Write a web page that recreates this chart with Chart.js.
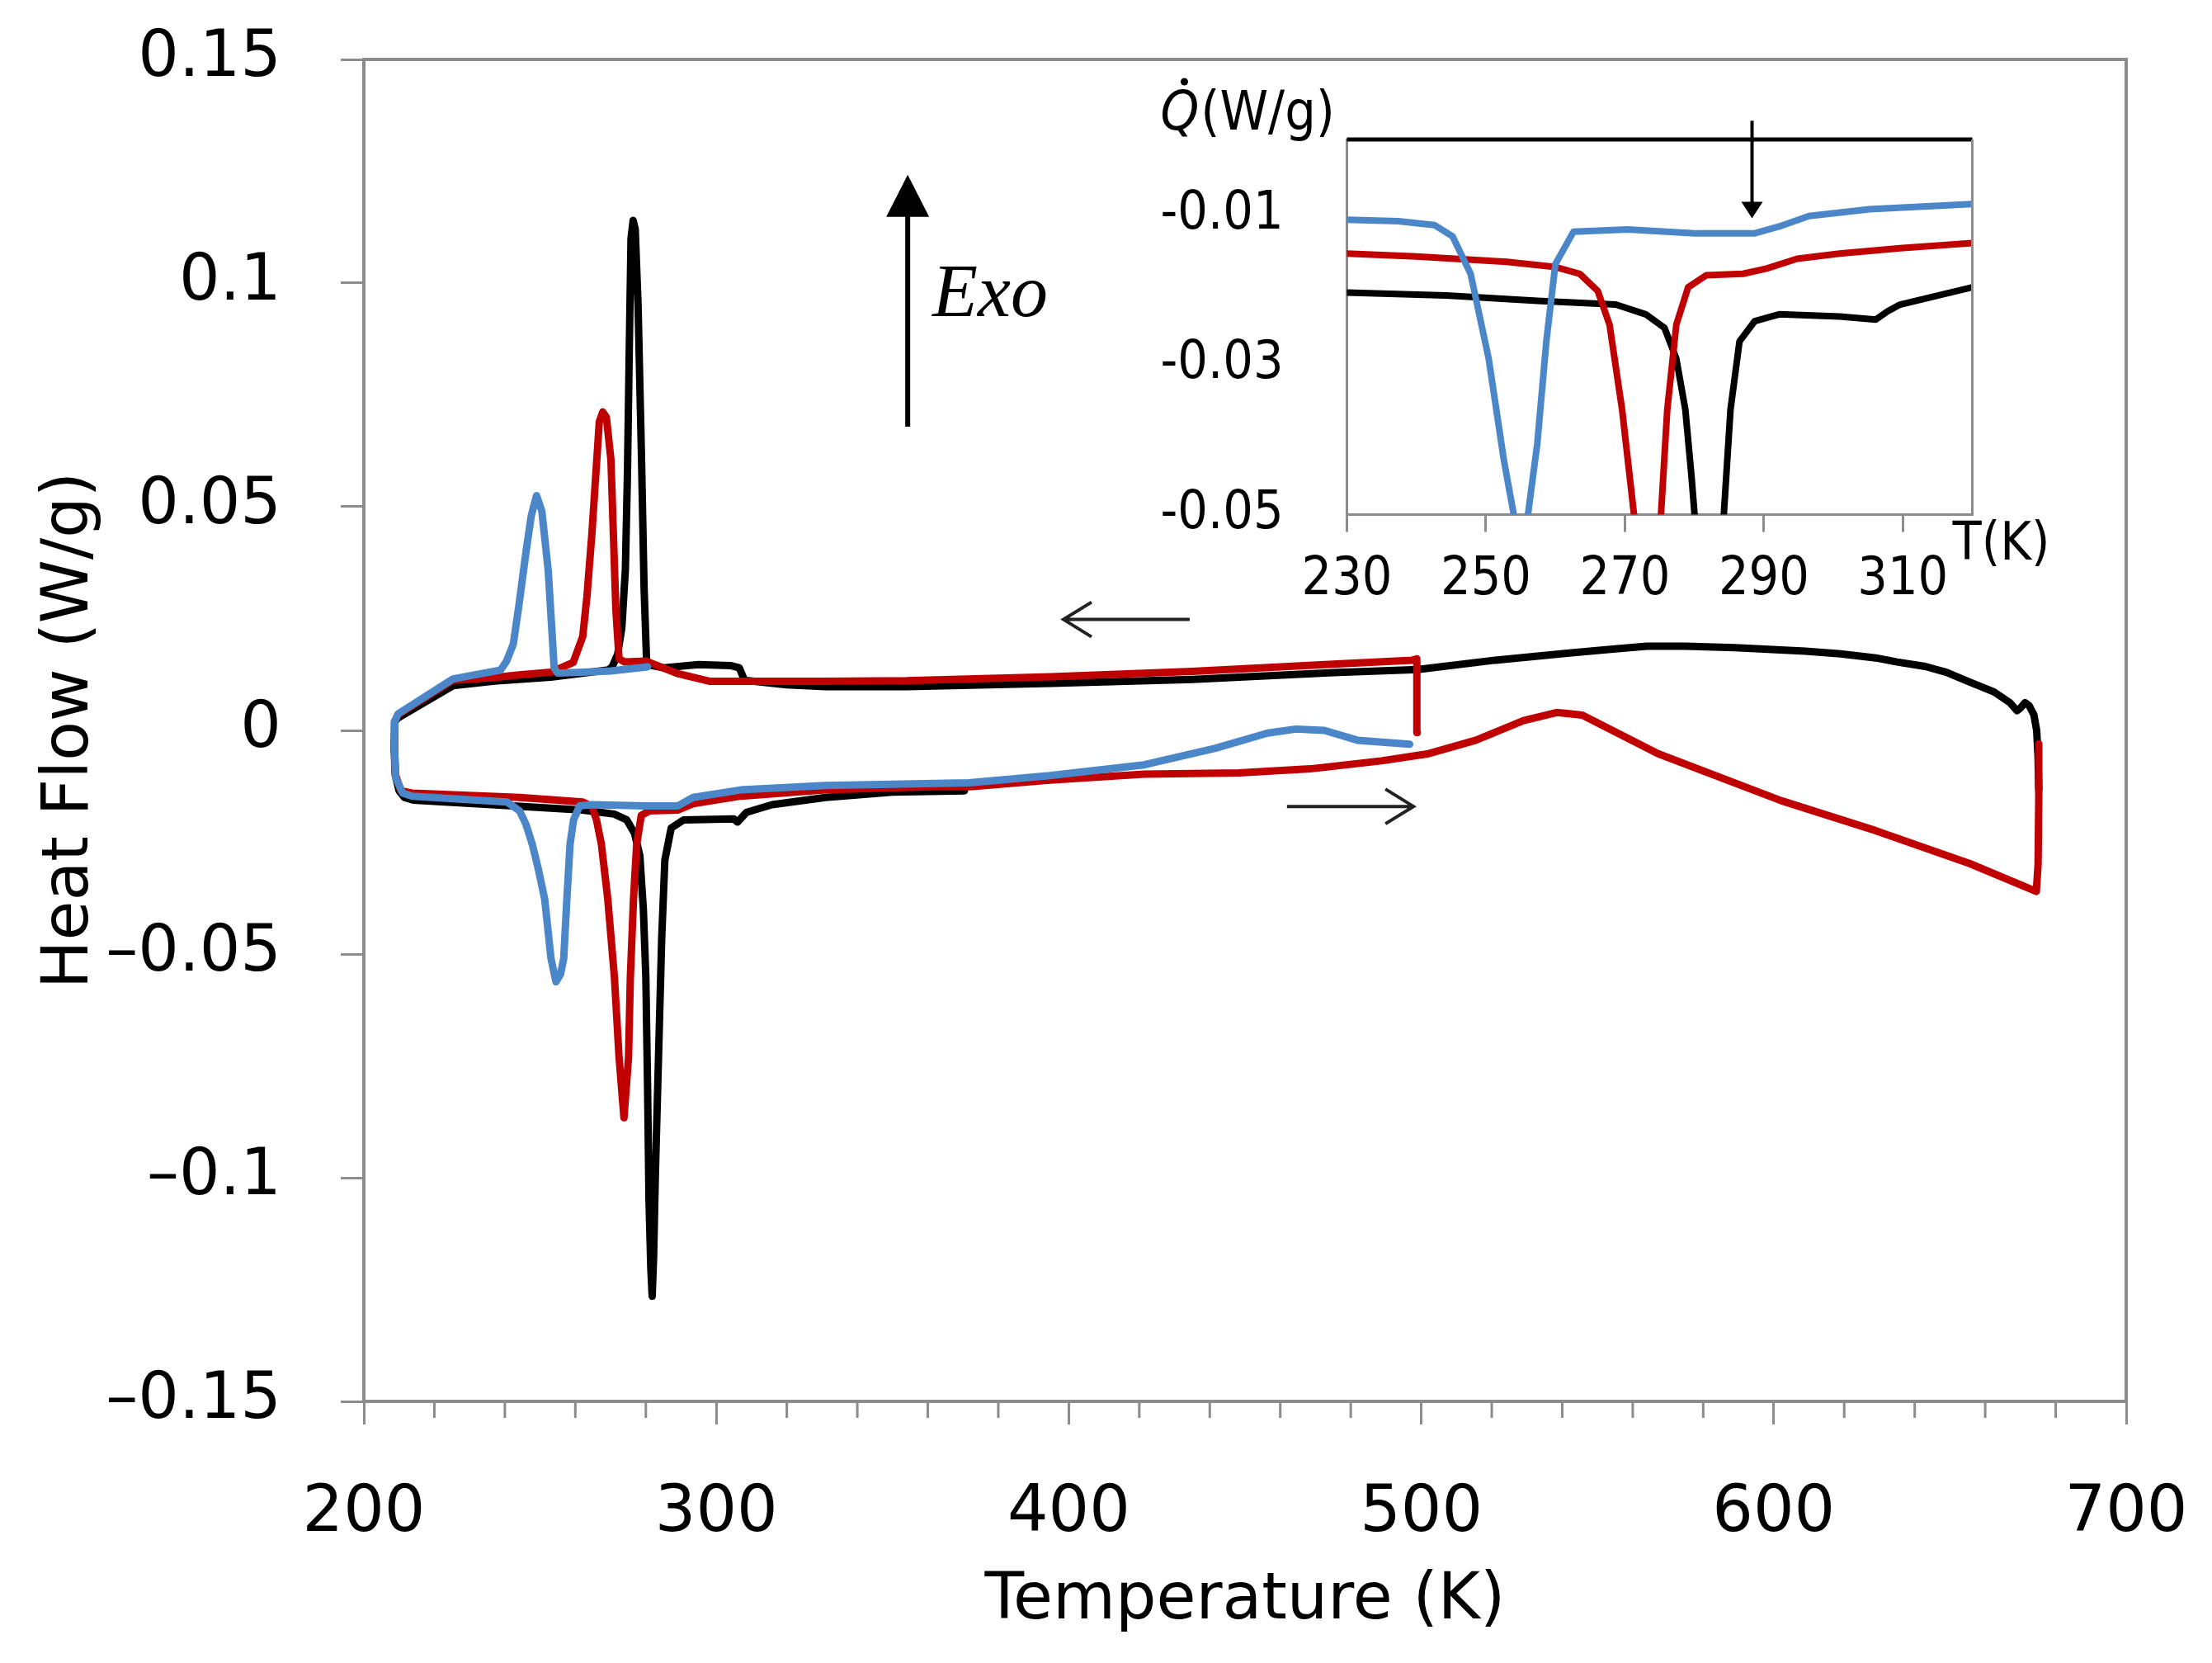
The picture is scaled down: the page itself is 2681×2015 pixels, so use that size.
<!DOCTYPE html>
<html>
<head>
<meta charset="utf-8">
<title>Heat flow vs temperature</title>
<script src="https://cdn.jsdelivr.net/npm/chart.js@4.4.0/dist/chart.umd.min.js"></script>
<style>
  html, body { margin: 0; padding: 0; background: #fff; }
  #wrap { position: relative; width: 2681px; height: 2015px; }
  #main { position: absolute; left: 0; top: 0; }
  #inset { position: absolute; left: 1380px; top: 90px; }
</style>
</head>
<body>
<div id="wrap">
  <canvas id="main" width="2681" height="2015"></canvas>
  <canvas id="inset" width="1120" height="650"></canvas>
</div>
<script>
// ---- main plot data: [T (K), heat flow (W/g)] along each loop ----
const blackLoop = [
  [675.2, -0.0132], [675.0, -0.006], [674.6, 0.0], [673.8, 0.0035], [672.5, 0.0055], [671.3, 0.0062],
  [670.0, 0.005], [669.0, 0.0044], [667.0, 0.0062], [662.5, 0.0086], [655, 0.0110], [649, 0.0130],
  [643, 0.0143], [635, 0.0153], [629, 0.0162], [619, 0.0171], [609, 0.0177], [589, 0.0185],
  [575, 0.0188], [564, 0.0188], [555, 0.0182], [542, 0.0173], [521, 0.0157], [499, 0.0136],
  [475, 0.0129], [435, 0.0114], [395, 0.0105], [354, 0.0098], [331, 0.0098], [320, 0.0102],
  [308, 0.0112], [306.5, 0.0140], [304, 0.0145], [295, 0.0147], [285, 0.0140], [281, 0.0146],
  [280.2, 0.0158], [279.5, 0.032], [278.8, 0.060], [277.8, 0.095], [277.0, 0.112], [276.4, 0.114],
  [275.8, 0.110], [275.3, 0.085], [274.8, 0.058], [274.2, 0.036], [273.2, 0.023], [272.0, 0.017],
  [270.5, 0.0143], [269.4, 0.0135], [253, 0.0119], [237, 0.0110], [225.3, 0.0100], [209.7, 0.0028],
  [208.8, 0.002], [208.6, -0.004], [208.9, -0.010], [210.0, -0.0135], [211.5, -0.0150], [214, -0.0156],
  [242.3, -0.0169], [262, -0.0178], [271, -0.0187], [274.6, -0.0200], [276.8, -0.0230], [278.3, -0.028],
  [279.3, -0.040], [280.0, -0.055], [280.5, -0.080], [280.9, -0.105], [281.4, -0.120], [281.8, -0.1265],
  [282.2, -0.118], [282.7, -0.0995], [283.6, -0.073], [284.5, -0.0465], [285.4, -0.029], [287.2, -0.0218],
  [290.7, -0.0200], [305, -0.0198], [306, -0.0205], [308.6, -0.0183], [315.8, -0.0166], [331, -0.0150],
  [350, -0.0138], [370.4, -0.0135]
];

const redLoop = [
  [498.9, -0.0005], [498.8, 0.0100], [498.7, 0.0160], [497.5, 0.0157], [475, 0.0148], [435, 0.0132],
  [395, 0.0120], [354, 0.0111], [331, 0.0110], [298, 0.0110], [289, 0.0127], [280, 0.0155],
  [274, 0.0153], [272.4, 0.0160], [271.5, 0.027], [270.1, 0.0605], [268.8, 0.0700], [267.8, 0.0712],
  [266.8, 0.0690], [264.7, 0.044], [263.3, 0.030], [262.1, 0.021], [259.4, 0.0152], [253, 0.0130],
  [244, 0.0124], [237, 0.0118], [225.3, 0.0112], [209.7, 0.0035], [208.8, 0.002], [208.7, -0.004],
  [209.0, -0.010], [210.5, -0.0135], [213.7, -0.0140], [244.2, -0.0150], [262.1, -0.0160], [264.7, -0.0170],
  [266.0, -0.0200], [267.4, -0.0255], [269.2, -0.0377], [271.1, -0.0553], [272.4, -0.0730], [273.8, -0.0866],
  [275.1, -0.0730], [275.6, -0.0553], [276.5, -0.0377], [277.4, -0.0255], [278.7, -0.0190], [281, -0.0180],
  [289, -0.0178], [293.4, -0.0164], [306.9, -0.0147], [331, -0.0133], [361, -0.0126], [372, -0.0126],
  [394.6, -0.0111], [421.4, -0.0098], [448.3, -0.0095], [468.5, -0.0086], [488.7, -0.0068], [502.1, -0.0052],
  [515.5, -0.0022], [529, 0.0022], [538.4, 0.0040], [542.4, 0.0037], [545.7, 0.0034], [567.2, -0.0052],
  [602.1, -0.0157], [628.9, -0.0224], [655.7, -0.0298], [674.5, -0.0360], [675.0, -0.030], [675.2, -0.015],
  [675.2, -0.003]
];

const blueLoop = [
  [280.5, 0.0142], [270, 0.0133], [262, 0.0130], [255, 0.0128], [254, 0.0140], [252.3, 0.0358],
  [250.5, 0.049], [249.0, 0.0525], [247.5, 0.048], [246.0, 0.0399], [244.0, 0.028], [242.4, 0.0193],
  [240.5, 0.0155], [238.8, 0.0135], [225.3, 0.0115], [209.7, 0.0037], [208.8, 0.002], [208.7, -0.004],
  [209.0, -0.0105], [211.0, -0.0140], [213.7, -0.0147], [240.6, -0.0160], [244.2, -0.0180], [246.0, -0.021],
  [247.8, -0.0255], [249.5, -0.031], [251.3, -0.0377], [253.1, -0.0510], [254.5, -0.0562], [255.8, -0.0545],
  [256.7, -0.0510], [257.6, -0.0377], [258.5, -0.0255], [259.5, -0.020], [261.2, -0.0169], [264.7, -0.0166],
  [280, -0.0169], [289, -0.0169], [293.4, -0.0150], [306.9, -0.0133], [331, -0.0123], [371.7, -0.0117],
  [394.6, -0.0101], [421.4, -0.0077], [441.6, -0.0040], [456.4, -0.0006], [464.4, 0.0003], [472.5, 0.0],
  [481.9, -0.0022], [496.7, -0.0031]
];

// ---- inset data (heating branch, 230-320 K) ----
const insetBlack = [
  [230, -0.0204], [244.3, -0.0208], [257.4, -0.0215], [268.7, -0.0220], [273, -0.0233], [275.7, -0.0251],
  [277.4, -0.0292], [278.7, -0.036], [279.6, -0.045], [280.2, -0.052], [282, -0.09], [284.1, -0.052],
  [285.2, -0.036], [286.5, -0.0269], [288.7, -0.0242], [292.2, -0.0233], [300.9, -0.0236], [306.1, -0.0240],
  [307.8, -0.0229], [309.6, -0.0220], [320, -0.0197]
];
const insetRed = [
  [230, -0.0152], [240, -0.0156], [253, -0.0163], [260, -0.0170], [263.5, -0.0179], [266.1, -0.0202],
  [267.8, -0.0247], [269.6, -0.036], [271.5, -0.0515], [273.3, -0.07], [275.1, -0.0515], [276.1, -0.036],
  [277.4, -0.0247], [279.1, -0.0197], [281.7, -0.0181], [287, -0.0179], [290.4, -0.0172], [294.8, -0.0159],
  [300.9, -0.0152], [309.6, -0.0145], [320, -0.0138]
];
const insetBlue = [
  [230, -0.0107], [237.4, -0.0109], [242.6, -0.0114], [245.2, -0.0129], [247.8, -0.0179], [250.4, -0.0292],
  [252.6, -0.0428], [255.2, -0.056], [257.4, -0.0405], [258.7, -0.0269], [260, -0.0166], [262.6, -0.0123],
  [270.4, -0.0120], [280, -0.0125], [288.7, -0.0125], [292.2, -0.0116], [296.5, -0.0102], [305.2, -0.0093],
  [320, -0.0086]
];

// ---- ticks ----
const xTickValues = [200, 300, 400, 500, 600, 700];
const xTickLabels = ['200', '300', '400', '500', '600', '700'];
const xMinorTicks = [220, 240, 260, 280, 320, 340, 360, 380, 420, 440, 460, 480,
  520, 540, 560, 580, 620, 640, 660, 680];
const yTickValues = [-0.15, -0.1, -0.05, 0, 0.05, 0.1, 0.15];
const yTickLabels = ['\u20130.15', '\u20130.1', '\u20130.05', '0', '0.05', '0.1', '0.15'];

const insetXTicks = [230, 250, 270, 290, 310];
const insetXLabels = ['230', '250', '270', '290', '310'];
const insetYTicks = [-0.05, -0.03, -0.01];
const insetYLabels = ['-0.05', '-0.03', '-0.01'];

const BLACK = '#000000';
const RED = '#C00000';
const BLUE = '#4A86C8';
const AXIS = '#8c8c8c';
const FONT = "'DejaVu Sans', 'Noto Sans', sans-serif";
const NARROW = "'DejaVu Sans Condensed', 'Liberation Sans Narrow', 'DejaVu Sans', sans-serif";

Chart.defaults.font.family = FONT;
Chart.defaults.color = '#000';

const toPoints = arr => arr.map(p => ({ x: p[0], y: p[1] }));

function lineSet(data, color, width, order) {
  return {
    data: toPoints(data),
    showLine: true,
    borderColor: color,
    backgroundColor: color,
    borderWidth: width,
    pointRadius: 0,
    tension: 0,
    borderJoinStyle: 'round',
    borderCapStyle: 'round',
    order: order
  };
}

// keep the plot box where it is, whatever room the tick labels ask for
function noLabelMargins(s) {
  s.paddingTop = 0;
  s.paddingBottom = 0;
  s.paddingLeft = 0;
  s.paddingRight = 0;
}

function arrowHead(ctx, x, y, dir, len, half) {
  // filled triangle, tip at (x, y); dir = -1 points up, 1 points down
  ctx.beginPath();
  ctx.moveTo(x, y);
  ctx.lineTo(x - half, y - dir * len);
  ctx.lineTo(x + half, y - dir * len);
  ctx.closePath();
  ctx.fill();
}

// annotations of the main plot: frame, minor ticks, Exo arrow and direction arrows
const mainDecor = {
  id: 'mainDecor',
  afterDatasetsDraw(chart) {
    const { ctx, chartArea: a, scales: { x, y } } = chart;
    ctx.save();
    ctx.strokeStyle = AXIS;
    ctx.lineWidth = 4;
    ctx.beginPath();
    ctx.moveTo(a.left, a.top);
    ctx.lineTo(a.right, a.top);
    ctx.lineTo(a.right, a.bottom);
    ctx.stroke();

    ctx.lineWidth = 3;
    ctx.beginPath();
    xMinorTicks.forEach(v => {
      const px = x.getPixelForValue(v);
      ctx.moveTo(px, a.bottom);
      ctx.lineTo(px, a.bottom + 20);
    });
    ctx.stroke();

    // Exo arrow
    const ex = x.getPixelForValue(354.3);
    const tip = y.getPixelForValue(0.1242);
    ctx.strokeStyle = BLACK;
    ctx.fillStyle = BLACK;
    ctx.lineWidth = 6;
    ctx.beginPath();
    ctx.moveTo(ex, y.getPixelForValue(0.0679));
    ctx.lineTo(ex, tip + 40);
    ctx.stroke();
    arrowHead(ctx, ex, tip, -1, 51, 26);

    ctx.font = "italic 90px 'Liberation Serif', 'DejaVu Serif', serif";
    ctx.textBaseline = 'alphabetic';
    ctx.textAlign = 'left';
    ctx.fillText('Exo', x.getPixelForValue(361.3), y.getPixelForValue(0.0926));

    // cooling / heating direction arrows
    ctx.strokeStyle = '#222';
    ctx.lineWidth = 4;
    const arrows = [
      { from: 434.3, to: 398.5, v: 0.0248 },
      { from: 461.9, to: 497.8, v: -0.0170 }
    ];
    arrows.forEach(ar => {
      const x0 = x.getPixelForValue(ar.from);
      const x1 = x.getPixelForValue(ar.to);
      const py = y.getPixelForValue(ar.v);
      const d = Math.sign(x1 - x0);
      ctx.beginPath();
      ctx.moveTo(x0, py);
      ctx.lineTo(x1, py);
      ctx.moveTo(x1 - d * 34, py - 21);
      ctx.lineTo(x1, py);
      ctx.lineTo(x1 - d * 34, py + 21);
      ctx.stroke();
    });
    ctx.restore();
  }
};

new Chart(document.getElementById('main'), {
  type: 'scatter',
  data: {
    datasets: [
      lineSet(blackLoop, BLACK, 9, 2),
      lineSet(redLoop, RED, 9, 1),
      lineSet(blueLoop, BLUE, 9, 0)
    ]
  },
  options: {
    responsive: false,
    animation: false,
    devicePixelRatio: 1,
    layout: { padding: { left: 0, right: 104, top: 72, bottom: 0 } },
    plugins: { legend: { display: false }, tooltip: { enabled: false } },
    scales: {
      x: {
        type: 'linear',
        min: 200,
        max: 700,
        afterBuildTicks: s => { s.ticks = xTickValues.map(v => ({ value: v })); },
        afterFit: s => { s.height = 317; noLabelMargins(s); },
        grid: { drawOnChartArea: false, drawTicks: true, tickLength: 28, color: AXIS, lineWidth: 3 },
        border: { display: true, color: AXIS, width: 4 },
        ticks: {
          font: { size: 78 },
          color: '#000',
          padding: 62,
          maxRotation: 0,
          callback: (v, i) => xTickLabels[i]
        },
        title: {
          display: true,
          text: 'Temperature (K)',
          font: { size: 78 },
          color: '#000',
          padding: { top: 0, bottom: 27 }
        }
      },
      y: {
        type: 'linear',
        min: -0.15,
        max: 0.15,
        afterBuildTicks: s => { s.ticks = yTickValues.map(v => ({ value: v })); },
        afterFit: s => { s.width = 441; noLabelMargins(s); },
        grid: { drawOnChartArea: false, drawTicks: true, tickLength: 28, color: AXIS, lineWidth: 3 },
        border: { display: true, color: AXIS, width: 4 },
        ticks: {
          font: { size: 78 },
          color: '#000',
          padding: 72,
          callback: (v, i) => yTickLabels[i]
        },
        title: {
          display: true,
          text: 'Heat Flow (W/g)',
          font: { size: 78 },
          color: '#000',
          padding: { top: 39, bottom: 0 }
        }
      }
    }
  },
  plugins: [mainDecor]
});

// inset decorations: frame, marker arrow and axis captions
const insetDecor = {
  id: 'insetDecor',
  afterDatasetsDraw(chart) {
    const { ctx, chartArea: a, scales: { x, y } } = chart;
    ctx.save();
    ctx.strokeStyle = BLACK;
    ctx.lineWidth = 5;
    ctx.beginPath();
    ctx.moveTo(a.left, a.top);
    ctx.lineTo(a.right, a.top);
    ctx.stroke();
    ctx.strokeStyle = AXIS;
    ctx.lineWidth = 3;
    ctx.beginPath();
    ctx.moveTo(a.right, a.top);
    ctx.lineTo(a.right, a.bottom);
    ctx.stroke();

    // marker arrow pointing at the 290 K feature
    const ax = x.getPixelForValue(288.3);
    const tip = y.getPixelForValue(-0.0105);
    ctx.strokeStyle = BLACK;
    ctx.fillStyle = BLACK;
    ctx.lineWidth = 4;
    ctx.beginPath();
    ctx.moveTo(ax, y.getPixelForValue(0.0025));
    ctx.lineTo(ax, tip - 15);
    ctx.stroke();
    arrowHead(ctx, ax, tip, 1, 20, 13);

    ctx.fillStyle = '#000';
    ctx.textBaseline = 'middle';
    ctx.textAlign = 'left';
    ctx.font = '64px ' + NARROW;
    ctx.fillText('T(K)', a.right - 24, a.bottom + 38);

    // Q-dot label
    const qx = a.left - 226;
    const qy = a.top - 12;
    ctx.textBaseline = 'alphabetic';
    ctx.font = 'italic 66px ' + NARROW;
    ctx.fillText('Q', qx, qy);
    const qw = ctx.measureText('Q').width;
    ctx.beginPath();
    ctx.arc(qx + qw * 0.62, qy - 58, 4.5, 0, Math.PI * 2);
    ctx.fill();
    ctx.font = '66px ' + NARROW;
    ctx.fillText('(W/g)', qx + qw + 2, qy);
    ctx.restore();
  }
};

new Chart(document.getElementById('inset'), {
  type: 'scatter',
  data: {
    datasets: [
      lineSet(insetBlack, BLACK, 8, 2),
      lineSet(insetRed, RED, 8, 1),
      lineSet(insetBlue, BLUE, 8, 0)
    ].map(d => Object.assign(d, { clip: 0 }))
  },
  options: {
    responsive: false,
    animation: false,
    devicePixelRatio: 1,
    layout: { padding: { left: 0, right: 109.5, top: 79, bottom: 0 } },
    plugins: { legend: { display: false }, tooltip: { enabled: false } },
    scales: {
      x: {
        type: 'linear',
        min: 230,
        max: 320,
        afterBuildTicks: s => { s.ticks = insetXTicks.map(v => ({ value: v })); },
        afterFit: s => { s.height = 116.4; noLabelMargins(s); },
        grid: { drawOnChartArea: false, drawTicks: true, tickLength: 21, color: AXIS, lineWidth: 3 },
        border: { display: true, color: AXIS, width: 3 },
        ticks: {
          font: { size: 64, family: NARROW },
          color: '#000',
          padding: 20,
          maxRotation: 0,
          callback: (v, i) => insetXLabels[i]
        }
      },
      y: {
        type: 'linear',
        min: -0.05,
        max: 0,
        afterBuildTicks: s => { s.ticks = insetYTicks.map(v => ({ value: v })); },
        afterFit: s => { s.width = 252.5; noLabelMargins(s); },
        grid: { drawOnChartArea: false, drawTicks: false },
        border: { display: true, color: AXIS, width: 3 },
        ticks: {
          font: { size: 64, family: NARROW },
          color: '#000',
          padding: 77,
          callback: (v, i) => insetYLabels[i]
        }
      }
    }
  },
  plugins: [insetDecor]
});
</script>
</body>
</html>
